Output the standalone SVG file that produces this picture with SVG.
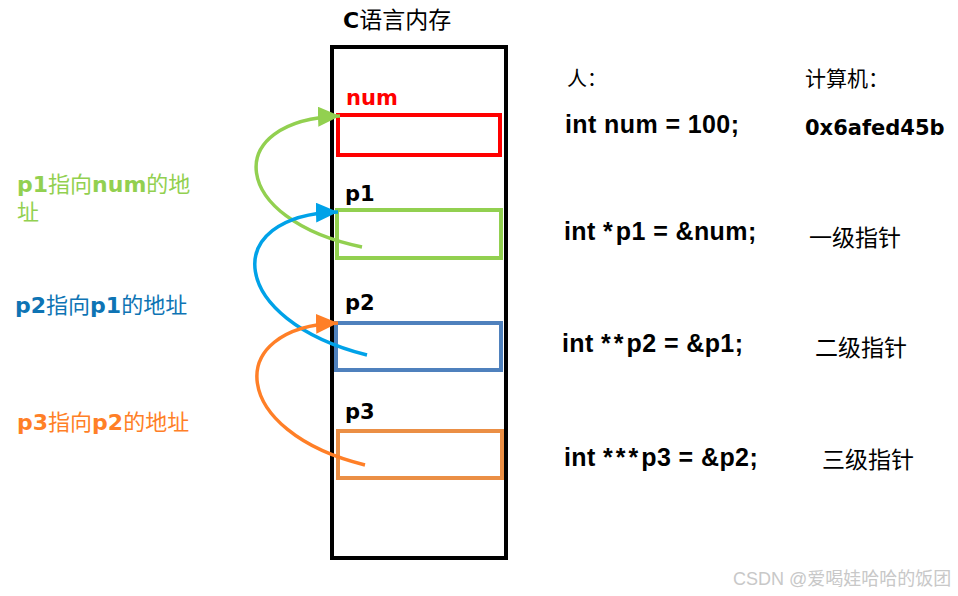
<svg xmlns="http://www.w3.org/2000/svg" width="958" height="596" viewBox="0 0 958 596">
  <style>
    .lat { font-family: "DejaVu Sans", "Noto Sans CJK SC", sans-serif; font-weight: bold; }
    .cjk { font-family: "Noto Sans CJK SC", sans-serif; font-weight: normal; }
    .code { font-family: "Liberation Sans", Arial, sans-serif; font-weight: bold; font-size: 25px; letter-spacing: 0.4px; fill: #000; }
    .ast { letter-spacing: 3px; }
    .box { fill: none; stroke-width: 4; }
    .conn { fill: none; stroke-width: 3.5; }
  </style>
  <defs>
    <marker id="ahG" markerUnits="userSpaceOnUse" markerWidth="24" markerHeight="22" refX="22" refY="10" orient="auto">
      <path d="M0,0 L22,10 L0,20 Z" fill="#92D050"/>
    </marker>
    <marker id="ahB" markerUnits="userSpaceOnUse" markerWidth="24" markerHeight="22" refX="22" refY="10" orient="auto">
      <path d="M0,0 L22,10 L0,20 Z" fill="#00A2E8"/>
    </marker>
    <marker id="ahO" markerUnits="userSpaceOnUse" markerWidth="24" markerHeight="22" refX="22" refY="10" orient="auto">
      <path d="M0,0 L22,10 L0,20 Z" fill="#FF7F27"/>
    </marker>
  </defs>
  <rect width="958" height="596" fill="#fff"/>

  <g id="memory">
    <text x="343" y="28" font-size="23"><tspan class="lat" font-size="22">C</tspan><tspan class="cjk">语言内存</tspan></text>
    <rect x="332" y="47" width="174" height="511" fill="none" stroke="#000" stroke-width="4"/>
  </g>

  <g id="num">
    <text x="346" y="105" class="lat" fill="#FF0000" font-size="21">num</text>
    <rect class="box" x="338" y="115" width="162" height="40" stroke="#FF0000"/>
  </g>
  <g id="p1">
    <text x="345" y="201" class="lat" fill="#000" font-size="21">p1</text>
    <rect class="box" x="337" y="210" width="164" height="48" stroke="#92D050"/>
  </g>
  <g id="p2">
    <text x="345" y="310" class="lat" fill="#000" font-size="21">p2</text>
    <rect class="box" x="336" y="323" width="165" height="47" stroke="#4F81BD"/>
  </g>
  <g id="p3">
    <text x="345" y="419" class="lat" fill="#000" font-size="21">p3</text>
    <rect class="box" x="338" y="431" width="164" height="47" stroke="#EB8F45"/>
  </g>

  <g id="connectors">
    <path class="conn" stroke="#92D050" d="M362,247 C230,220 220,120 340,116" marker-end="url(#ahG)"/>
    <path class="conn" stroke="#00A2E8" d="M367,355 C228,320 218,215 338,212" marker-end="url(#ahB)"/>
    <path class="conn" stroke="#FF7F27" d="M365,465 C230,432 222,327 338,323" marker-end="url(#ahO)"/>
  </g>

  <g id="note-p1" fill="#92D050" font-size="22">
    <text x="17" y="192"><tspan class="lat">p1</tspan><tspan class="cjk">指向</tspan><tspan class="lat">num</tspan><tspan class="cjk">的地</tspan></text>
    <text x="17" y="220" class="cjk">址</text>
  </g>
  <g id="note-p2" fill="#0E74B4" font-size="22">
    <text x="15" y="313"><tspan class="lat">p2</tspan><tspan class="cjk">指向</tspan><tspan class="lat">p1</tspan><tspan class="cjk">的地址</tspan></text>
  </g>
  <g id="note-p3" fill="#FF7F27" font-size="22">
    <text x="17" y="430"><tspan class="lat">p3</tspan><tspan class="cjk">指向</tspan><tspan class="lat">p2</tspan><tspan class="cjk">的地址</tspan></text>
  </g>

  <g id="human">
    <text x="567" y="86" class="cjk" font-size="20">人：</text>
    <text x="565" y="133" class="code">int num = 100;</text>
    <text x="564" y="240" class="code">int <tspan class="ast">*</tspan>p1 = &amp;num;</text>
    <text x="562" y="352" class="code">int <tspan class="ast">**</tspan>p2 = &amp;p1;</text>
    <text x="564" y="466" class="code">int <tspan class="ast">***</tspan>p3 = &amp;p2;</text>
  </g>
  <g id="computer">
    <text x="805" y="86" class="cjk" font-size="21">计算机：</text>
    <text x="805" y="135" class="lat" font-size="21" fill="#000">0x6afed45b</text>
    <text x="809" y="246" class="cjk" font-size="23">一级指针</text>
    <text x="815" y="356" class="cjk" font-size="23">二级指针</text>
    <text x="822" y="468" class="cjk" font-size="23">三级指针</text>
  </g>

  <text x="733" y="585" font-family="'Liberation Sans', 'Noto Sans CJK SC', sans-serif" font-size="18" fill="#C8C8C8">CSDN @爱喝娃哈哈的饭团</text>
</svg>
